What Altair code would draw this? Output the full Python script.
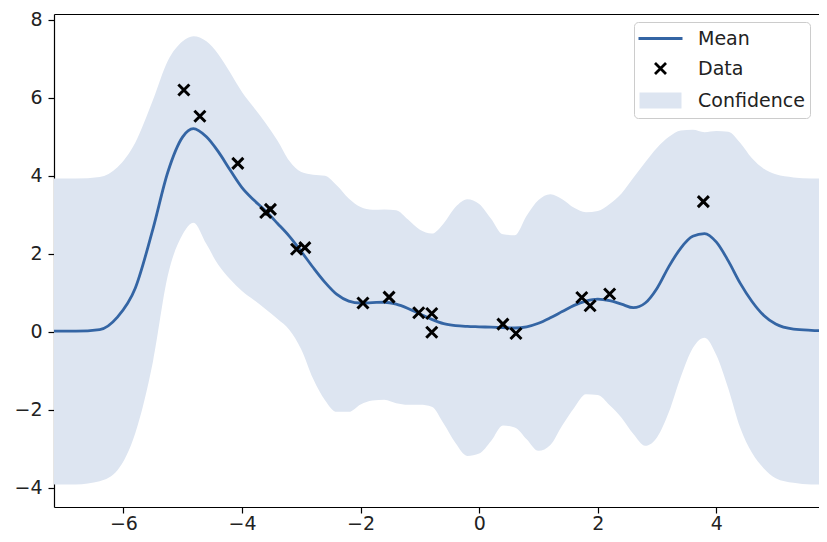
import altair as alt
import pandas as pd

# ---- data ----
grid_x = [-7.17, -6.8, -6.4, -6.1, -5.8, -5.5, -5.25, -5.0, -4.82,
          -4.6, -4.4, -4.2, -4.0, -3.8, -3.6, -3.4, -3.2, -3.0, -2.8, -2.6, -2.4, -2.2, -2.0,
          -1.8, -1.6, -1.4, -1.2, -1.0, -0.8, -0.6, -0.4, -0.2, 0.0, 0.2, 0.4, 0.6, 0.8, 1.0,
          1.2, 1.4, 1.6, 1.8, 2.0, 2.2, 2.4, 2.6, 2.8, 3.0, 3.2, 3.4, 3.6, 3.8, 4.0, 4.2, 4.4,
          4.6, 4.8, 5.0, 5.3, 5.6, 5.86]
mean_y = [0.02, 0.02, 0.06, 0.38, 1.12, 2.65, 4.10, 5.00, 5.21,
          5.00, 4.62, 4.15, 3.70, 3.38, 3.10, 2.78, 2.45, 2.06, 1.65, 1.27, 0.96, 0.79, 0.74,
          0.75, 0.76, 0.71, 0.60, 0.46, 0.32, 0.21, 0.16, 0.14, 0.13, 0.12, 0.11, 0.10, 0.13, 0.22,
          0.36, 0.52, 0.68, 0.79, 0.84, 0.80, 0.71, 0.62, 0.74, 1.12, 1.68, 2.15, 2.45, 2.52, 2.30, 1.82, 1.25,
          0.78, 0.42, 0.20, 0.07, 0.04, 0.03]
upper_y = [3.93, 3.93, 3.97, 4.22, 4.85, 5.95, 6.95, 7.45, 7.58,
           7.45, 7.12, 6.65, 6.15, 5.75, 5.35, 4.90, 4.38, 4.10, 4.03, 4.00, 3.75, 3.42, 3.20,
           3.13, 3.14, 3.12, 2.88, 2.62, 2.52, 2.78, 3.20, 3.40, 3.28, 2.90, 2.50, 2.48, 2.98, 3.38,
           3.53, 3.40, 3.18, 3.07, 3.10, 3.28, 3.55, 3.95, 4.35, 4.72, 5.00, 5.16, 5.18, 5.12, 5.15, 5.13, 4.85,
           4.45, 4.18, 4.04, 3.96, 3.93, 3.93]
lower_y = [-3.91, -3.91, -3.83, -3.55, -2.60, -0.75, 1.45, 2.50, 2.80,
           2.25, 1.72, 1.35, 1.05, 0.82, 0.58, 0.33, 0.05, -0.45, -1.20, -1.75, -2.05, -2.05, -1.86,
           -1.76, -1.74, -1.83, -1.87, -1.87, -1.92, -2.35, -2.85, -3.18, -3.12, -2.80, -2.40, -2.45, -2.75, -3.05,
           -2.90, -2.40, -1.95, -1.60, -1.62, -1.88, -2.20, -2.62, -2.92, -2.70, -2.05, -1.15, -0.42, -0.15, -0.60, -1.45, -2.45,
           -3.10, -3.50, -3.75, -3.87, -3.91, -3.91]

data_x = [-4.98, -4.71, -4.07, -3.60, -3.52, -3.08, -2.94, -1.96, -1.52,
          -1.02, -0.80, -0.80, 0.40, 0.62, 1.73, 1.87, 2.20, 3.78]
data_y = [6.20, 5.53, 4.32, 3.06, 3.14, 2.12, 2.16, 0.74, 0.89,
          0.49, 0.47, -0.01, 0.20, -0.04, 0.88, 0.67, 0.97, 3.34]

series_names = ["Mean", "Data", "Confidence"]
series_colors = ["#3465a4", "#000000", "#dde5f1"]

x_ticks = [-6, -4, -2, 0, 2, 4]
y_ticks = [-4, -2, 0, 2, 4, 6, 8]
x_domain = [-7.17, 5.73]
y_domain = [-4.49, 8.15]

# ---- tables ----
curve = pd.DataFrame({"x": grid_x, "mean": mean_y, "upper": upper_y,
                      "lower": lower_y, "series": "Mean"})
pts = pd.DataFrame({"x": data_x, "y": data_y, "series": "Data"})

# legend / marker symbols (unit paths, scaled by Vega)
mean_path = "M-2.2,0H2.2"
data_path = "M-0.55,-0.55L0.55,0.55M-0.55,0.55L0.55,-0.55"
conf_path = ("M-2.1,-0.66H2.1M-2.1,-0.44H2.1M-2.1,-0.22H2.1M-2.1,0H2.1"
             "M-2.1,0.22H2.1M-2.1,0.44H2.1M-2.1,0.66H2.1")

FONT = "DejaVu Sans"
xs = alt.Scale(domain=x_domain, nice=False, zero=False)
ys = alt.Scale(domain=y_domain, nice=False, zero=False)
stroke_scale = alt.Scale(domain=series_names, range=series_colors)
shape_scale = alt.Scale(domain=series_names, range=[mean_path, data_path, conf_path])

leg = alt.Legend(title=None, orient="none", legendX=580, legendY=8, padding=5,
                 fillColor="rgba(255,255,255,0.8)", strokeColor="#cccccc",
                 cornerRadius=4, labelFont=FONT, labelFontSize=19,
                 labelColor="#222222", labelExpr="datum.label + ' '",
                 symbolSize=400, symbolStrokeWidth=2.8,
                 symbolOffset=10, labelOffset=26, rowPadding=8, symbolOpacity=1)

common_axis = dict(grid=False, title=None, domainColor="black", domainWidth=1.2,
                   tickColor="black", tickWidth=1.2, tickSize=6,
                   labelFont=FONT, labelFontSize=19, labelColor="#222222")

x_axis = alt.Axis(values=x_ticks, format="d", labelPadding=1, **common_axis)
y_axis = alt.Axis(values=y_ticks, format="d", labelPadding=6, **common_axis)
top_axis = alt.Axis(orient="top", labels=False, ticks=False, grid=False, title=None,
                    domainColor="black", domainWidth=1.2)

band = alt.Chart(curve).mark_area(color="#dde5f1", opacity=1, interpolate="monotone",
                                  clip=True).encode(
    x=alt.X("x:Q", scale=xs, axis=x_axis),
    y=alt.Y("lower:Q", scale=ys, axis=y_axis),
    y2="upper:Q",
)

line = alt.Chart(curve).mark_line(strokeWidth=2.8, interpolate="monotone", clip=True).encode(
    x=alt.X("x:Q", scale=xs, axis=top_axis),
    y=alt.Y("mean:Q", scale=ys, axis=None),
    stroke=alt.Stroke("series:N", scale=stroke_scale, legend=leg),
)

points = alt.Chart(pts).mark_point(filled=False, size=400, strokeWidth=3, opacity=1,
                                   clip=True).encode(
    x=alt.X("x:Q", scale=xs, axis=None),
    y=alt.Y("y:Q", scale=ys, axis=None),
    stroke=alt.Stroke("series:N", scale=stroke_scale, legend=leg),
    shape=alt.Shape("series:N", scale=shape_scale, legend=leg),
)

chart = alt.layer(band, line, points).resolve_axis(
    x="independent", y="independent"
).properties(
    width=765, height=493, autosize="none",
    padding={"left": 46, "top": 6, "right": 0, "bottom": 27},
).configure_view(stroke=None)

chart.save("out.html", embed_options={"renderer": "svg", "actions": False})
